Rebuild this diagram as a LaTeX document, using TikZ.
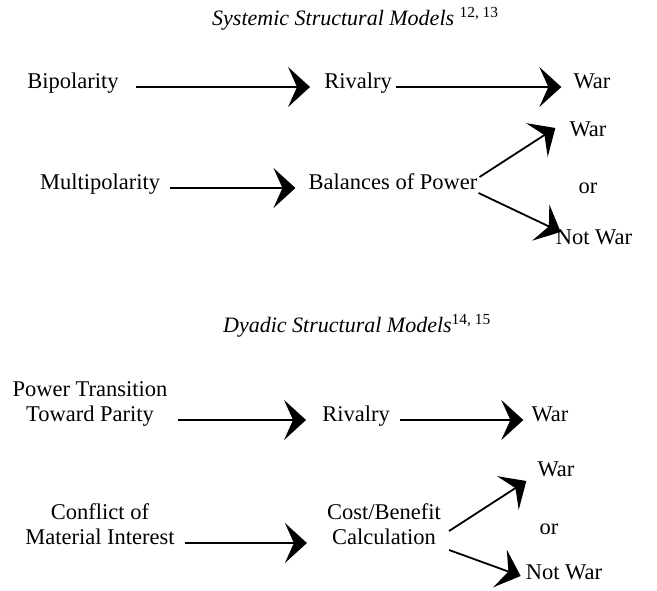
\documentclass[tikz,border=0pt]{standalone}
\usepackage{fontspec}
\setmainfont{Liberation Serif}
\usetikzlibrary{arrows.meta,calc}
\begin{document}
\begin{tikzpicture}[x=1pt,y=-1pt,
  lbl/.style={inner sep=0pt, font=\fontsize{22.5}{25}\selectfont, text height=0.55em, text depth=0.2em, align=center},
  ttl/.style={inner sep=0pt, anchor=west, font=\fontsize{22}{24}\selectfont\itshape},
  arr/.style={line width=1.8pt, -{Stealth[length=22pt,width=40pt,inset=9pt]}}]
\useasboundingbox (0,0) rectangle (657,590);
% titles
\node[ttl] (t1) at (212,19) {Systemic Structural Models \textsuperscript{\upshape 12, 13}};
\node[ttl] (t2) at (223,326) {Dyadic Structural Models\textsuperscript{\upshape 14, 15}};
% row 1
\node[lbl] (bip) at (73,87) {Bipolarity};
\node[lbl] (riv1) at (358,87) {Rivalry};
\node[lbl] (war1) at (592,87) {War};
\draw[arr, shorten <=17pt, shorten >=14pt] (bip.east) -- (riv1.west);
\draw[arr, shorten <=4pt, shorten >=12pt] (riv1.east) -- (war1.west);
% row 2
\node[lbl] (mul) at (100,188) {Multipolarity};
\node[lbl] (bop) at (393,188) {Balances of Power};
\node[lbl] (war2) at (588,135) {War};
\node[lbl] (or1) at (588,192) {or};
\node[lbl] (nw1) at (594,243) {Not War};
\draw[arr, shorten <=10pt, shorten >=13pt] (mul.east) -- (bop.west);
\draw[arr] ($(bop.east)+(2,-11)$) -- ($(war2.west)+(-14,-7)$);
\draw[arr] ($(bop.east)+(1,5)$) -- ($(nw1.west)+(5,-11)$);
% row 3
\node[lbl] (ptp) at (90,420) {Power Transition\\Toward Parity};
\node[lbl] (riv3) at (356,420) {Rivalry};
\node[lbl] (war3) at (550,420) {War};
\draw[arr, shorten <=10pt, shorten >=16pt] (ptp.east) -- (riv3.west);
\draw[arr, shorten <=10pt, shorten >=8pt] (riv3.east) -- (war3.west);
% row 4
\node[lbl] (cmi) at (100,543) {Conflict of\\Material Interest};
\node[lbl] (cbc) at (384,543) {Cost/Benefit\\Calculation};
\node[lbl] (war4) at (556,475) {War};
\node[lbl] (or2) at (549,533) {or};
\node[lbl] (nw2) at (564,578) {Not War};
\draw[arr, shorten <=10pt, shorten >=20pt] (cmi.east) -- (cbc.west);
\draw[arr] ($(cbc.east)+(8,-12)$) -- ($(war4.west)+(-11,6)$);
\draw[arr] ($(cbc.east)+(8,7)$) -- ($(nw2.west)+(-5,-2)$);
\end{tikzpicture}
\end{document}
